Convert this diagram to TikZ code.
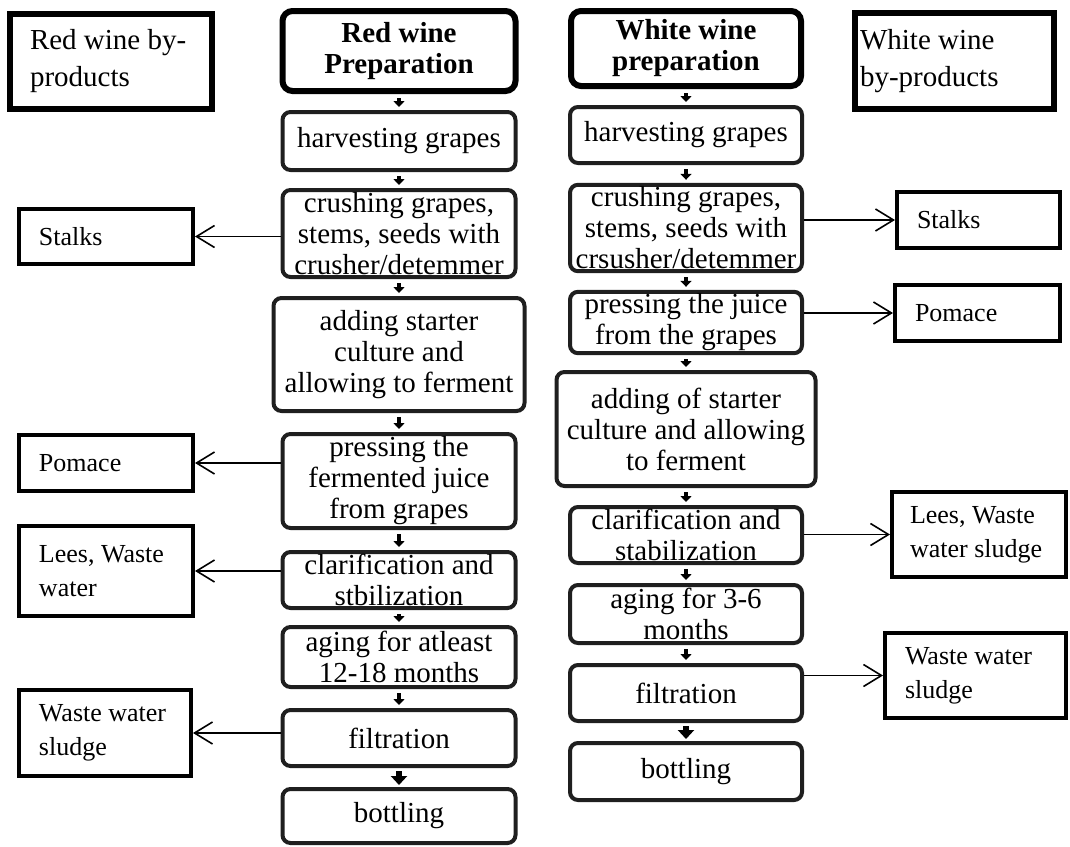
\documentclass[tikz,border=0pt]{standalone}
\usepackage{fontspec}
\setmainfont{Liberation Serif}
\usetikzlibrary{arrows.meta}
\tikzset{
  stepbox/.style={draw=black!88,line width=2pt,rounded corners=4pt,fill=white,align=center,inner sep=1pt,font=\fontsize{14.5}{15.5}\selectfont},
  headbox/.style={stepbox,draw=black,line width=3pt,rounded corners=5pt,font=\fontsize{14.5}{15.5}\selectfont\bfseries},
  prodbox/.style={draw=black,line width=2pt,align=flush left,inner xsep=10pt,inner ysep=2pt,font=\fontsize{13}{17}\selectfont},
  prodhead/.style={prodbox,line width=3pt,font=\fontsize{14.5}{18.5}\selectfont},
  stepflow/.style={line width=1.6pt,-{Triangle[length=3pt,width=5.5pt]},shorten <=2pt,shorten >=1.5pt},
  bigflow/.style={line width=3.2pt,-{Triangle[length=4.5pt,width=8pt]},shorten <=1.5pt,shorten >=1pt},
  byflow/.style={line width=0.8pt,-{Straight Barb[length=9pt,width=11pt]}}
}
\begin{document}
\begin{tikzpicture}[x=0.5pt,y=-0.5pt]
  \useasboundingbox (0,0) rectangle (1070,846);

  % red wine column
  \node[headbox,minimum width=116.5pt,minimum height=40pt] (rhead) at (399,51) {Red wine\\Preparation};
  \node[stepbox,minimum width=116.5pt,minimum height=29pt] (r1) at (399,141) {harvesting grapes};
  \node[stepbox,minimum width=116.5pt,minimum height=43.5pt] (r2) at (399,233.5) {crushing grapes,\\stems, seeds with\\crusher/detemmer};
  \node[stepbox,minimum width=125.5pt,minimum height=56.5pt] (r3) at (399,354.5) {adding starter\\culture and\\allowing to ferment};
  \node[stepbox,minimum width=116.5pt,minimum height=47pt] (r4) at (399,481) {pressing the\\fermented juice\\from grapes};
  \node[stepbox,minimum width=116.5pt,minimum height=28pt] (r5) at (399,580) {clarification and\\stbilization};
  \node[stepbox,minimum width=116.5pt,minimum height=30pt] (r6) at (399,657) {aging for atleast\\12-18 months};
  \node[stepbox,minimum width=116.5pt,minimum height=28pt] (r7) at (399,738) {filtration};
  \node[stepbox,minimum width=116.5pt,minimum height=27pt] (r8) at (399,816) {bottling};
  \draw[stepflow] (rhead) -- (r1);
  \draw[stepflow] (r1) -- (r2);
  \draw[stepflow] (r2) -- (r3);
  \draw[stepflow] (r3) -- (r4);
  \draw[stepflow] (r4) -- (r5);
  \draw[stepflow] (r5) -- (r6);
  \draw[stepflow] (r6) -- (r7);
  \draw[bigflow] (r7) -- (r8);

  % red wine by-products
  \node[prodhead,inner xsep=10pt,text width=81pt,minimum height=47.5pt] (rbyp) at (111,61.5) {Red wine by-\\products};
  \node[prodbox,text width=67pt,minimum height=27.5pt] (rstalk) at (106,236.5) {Stalks};
  \node[prodbox,text width=67pt,minimum height=28pt] (rpomace) at (106,463) {Pomace};
  \node[prodbox,text width=67pt,minimum height=45pt] (rlees) at (106,571) {Lees, Waste\\water};
  \node[prodbox,text width=66pt,minimum height=43pt] (rsludge) at (105,733) {Waste water\\sludge};
  \draw[byflow] (r2.west |- rstalk.east) -- (rstalk.east);
  \draw[byflow] (r4.west |- rpomace.east) -- (rpomace.east);
  \draw[byflow] (r5.west |- rlees.east) -- (rlees.east);
  \draw[byflow] (r7.west |- rsludge.east) -- (rsludge.east);

  % white wine column
  \node[headbox,minimum width=115pt,minimum height=37.5pt] (whead) at (686,48.5) {White wine\\preparation};
  \node[stepbox,minimum width=116pt,minimum height=28pt] (w1) at (686,135) {harvesting grapes};
  \node[stepbox,minimum width=116pt,minimum height=43pt] (w2) at (686,228) {crushing grapes,\\stems, seeds with\\crsusher/detemmer};
  \node[stepbox,minimum width=116pt,minimum height=28.5pt] (w3) at (686,322.5) {pressing the juice\\from the grapes};
  \node[stepbox,minimum width=129.5pt,minimum height=57pt] (w4) at (686,429) {adding of starter\\culture and allowing\\to ferment};
  \node[stepbox,minimum width=116pt,minimum height=28pt] (w5) at (686,535) {clarification and\\stabilization};
  \node[stepbox,minimum width=116pt,minimum height=29pt] (w6) at (686,614) {aging for 3-6\\months};
  \node[stepbox,minimum width=116pt,minimum height=28pt] (w7) at (686,693) {filtration};
  \node[stepbox,minimum width=116pt,minimum height=28.5pt] (w8) at (686,771.5) {bottling};
  \draw[stepflow] (whead) -- (w1);
  \draw[stepflow] (w1) -- (w2);
  \draw[stepflow] (w2) -- (w3);
  \draw[stepflow] (w3) -- (w4);
  \draw[stepflow] (w4) -- (w5);
  \draw[stepflow] (w5) -- (w6);
  \draw[stepflow] (w6) -- (w7);
  \draw[bigflow] (w7) -- (w8);

  % white wine by-products
  \node[prodhead,inner xsep=2.5pt,text width=94.5pt,minimum height=48pt] (wbyp) at (954.5,61) {White wine\\by-products};
  \node[prodbox,text width=61.5pt,minimum height=28pt] (wstalk) at (978.5,220) {Stalks};
  \node[prodbox,text width=62.5pt,minimum height=28pt] (wpomace) at (977.5,313) {Pomace};
  \node[prodbox,inner xsep=9pt,text width=69pt,minimum height=42.5pt] (wlees) at (979,534.5) {Lees, Waste\\water sludge};
  \node[prodbox,text width=70.5pt,minimum height=42.5pt] (wsludge) at (975.5,675.5) {Waste water\\sludge};
  \draw[byflow] (w2.east |- wstalk.west) -- (wstalk.west);
  \draw[byflow] (w3.east |- wpomace.west) -- (wpomace.west);
  \draw[byflow] (w5.east |- wlees.west) -- (wlees.west);
  \draw[byflow] (w7.east |- wsludge.west) -- (wsludge.west);
\end{tikzpicture}
\end{document}
